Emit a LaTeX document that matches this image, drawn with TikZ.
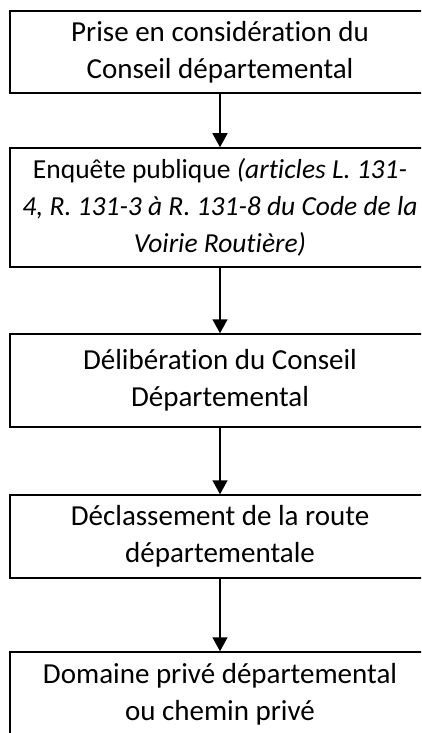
\documentclass[tikz,border=0pt]{standalone}
\usepackage{fontspec}
\setmainfont[Ligatures=NoCommon]{Carlito}
\usepackage{tikz}
\usetikzlibrary{arrows.meta}

\begin{document}
\begin{tikzpicture}[x=1pt, y=1pt,
        stage/.style={draw, line width=1.5pt, minimum width=420pt, inner sep=0pt,
            align=center, font=\fontsize{29}{37}\selectfont},
        flow/.style={line width=1.5pt, -{Triangle[width=15pt,length=14pt]}}]
        \useasboundingbox (0, 0) rectangle (421, -733);
        \clip (0, 0) rectangle (421, -733);
        \node[stage, minimum height=82pt] (prise) at (220, -52)
            {Prise en considération du\\Conseil départemental};
        \node[stage, minimum height=119pt, font=\fontsize{27.5}{37}\selectfont] (enquete) at (220, -207.5)
            {Enquête publique \textit{(articles L. 131-}\\\textit{4, R. 131-3 à R. 131-8 du Code de la}\\\textit{Voirie Routière)}};
        \node[stage, minimum height=93pt] (delib) at (220, -380.5)
            {Délibération du Conseil\\Départemental};
        \node[stage, minimum height=83pt] (declass) at (220, -536.5)
            {Déclassement de la route\\départementale};
        \node[stage, minimum height=84pt] (domaine) at (220, -694)
            {Domaine privé départemental\\ou chemin privé};

        % arrows between the stages
        \draw[flow] (prise) -- (enquete);
        \draw[flow] (enquete) -- (delib);
        \draw[flow] (delib) -- (declass);
        \draw[flow] (declass) -- (domaine);
    \end{tikzpicture}
\end{document}
